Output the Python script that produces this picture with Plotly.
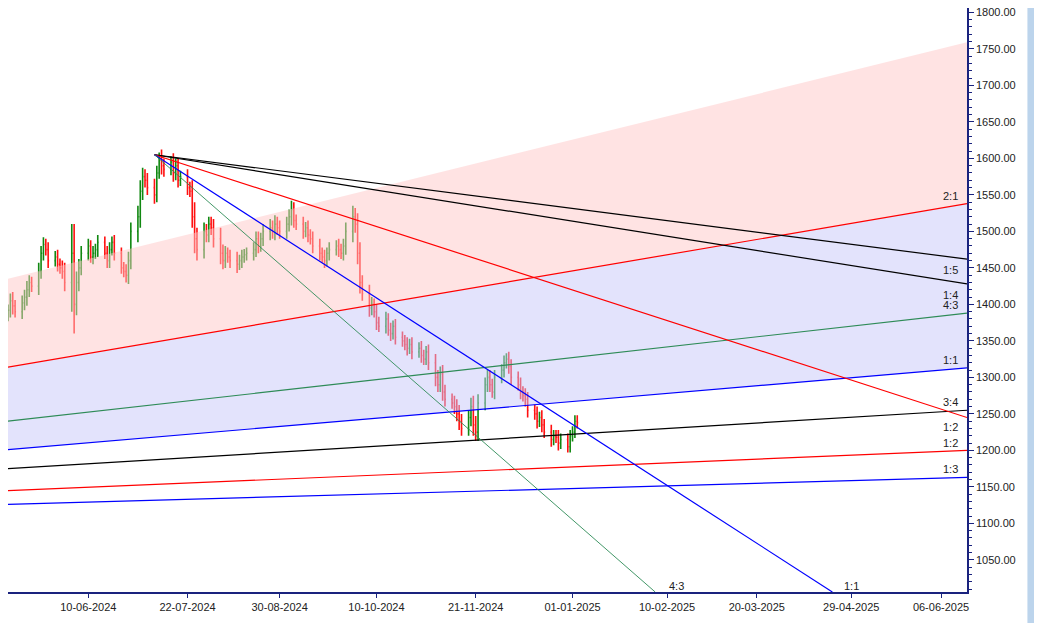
import pandas as pd
import plotly.graph_objects as go

# daily closes, one row per month (May 2024 .. Jan 2025)
closes = [
    1400, 1395, 1385, 1392, 1405, 1398, 1390, 1402, 1410, 1420, 1430, 1425, 1445, 1470, 1482, 1475, 1460, 1465, 1455, 1450, 1445, 1430,
    1470, 1400, 1430, 1450, 1470, 1480, 1465, 1470, 1475, 1485, 1470, 1460, 1475, 1485, 1470, 1450, 1445, 1440, 1460, 1500,
    1520, 1555, 1575, 1570, 1560, 1550, 1580, 1600, 1590, 1585, 1595, 1580, 1590, 1570, 1575, 1560, 1555, 1520, 1490, 1475, 1500, 1495, 1510,
    1505, 1490, 1470, 1460, 1470, 1465, 1460, 1455, 1460, 1465, 1468, 1470, 1475, 1490, 1480, 1490, 1500, 1505, 1500, 1510, 1505, 1500,
    1510, 1520, 1530, 1515, 1510, 1500, 1505, 1495, 1490, 1480, 1470, 1465, 1460, 1470, 1475, 1480, 1475, 1470, 1480, 1500, 1520,
    1510, 1470, 1430, 1415, 1395, 1400, 1390, 1375, 1370, 1380, 1365, 1360, 1370, 1355, 1350, 1345, 1340, 1345, 1335, 1340, 1330, 1325, 1335,
    1320, 1300, 1290, 1305, 1280, 1270, 1265, 1260, 1250, 1240, 1230, 1245, 1260, 1235, 1225, 1265, 1290, 1300, 1290, 1280, 1300,
    1310, 1320, 1325, 1315, 1300, 1290, 1280, 1275, 1270, 1255, 1250, 1240, 1245, 1235, 1225, 1215, 1220, 1218, 1210, 1215, 1205, 1220,
    1225, 1240, 1238,
]
wicks = [
    10, 12, 10, 8, 10, 12, 8, 10, 10, 12, 10, 8, 12, 10, 10, 8, 10, 8, 10, 8, 10, 12,
    40, 40, 15, 12, 10, 10, 8, 10, 8, 10, 8, 10, 10, 8, 10, 8, 8, 10, 12, 12,
    15, 15, 12, 10, 10, 12, 10, 8, 12, 10, 8, 12, 10, 10, 8, 10, 8, 15, 20, 15, 12, 10, 10,
    10, 12, 15, 12, 10, 8, 10, 12, 8, 10, 8, 8, 10, 10, 10, 8, 10, 12, 10, 12, 10, 10,
    10, 10, 12, 10, 8, 10, 8, 10, 8, 10, 10, 8, 10, 8, 10, 8, 10, 8, 10, 12, 15,
    12, 15, 15, 10, 12, 10, 8, 10, 8, 10, 8, 10, 8, 10, 8, 8, 10, 8, 10, 8, 10, 8, 8,
    10, 12, 10, 10, 12, 10, 8, 10, 10, 12, 10, 10, 12, 15, 12, 12, 10, 10, 10, 8, 10,
    8, 10, 8, 10, 10, 8, 10, 8, 10, 10, 8, 10, 8, 10, 8, 10, 8, 8, 10, 8, 8, 8,
    8, 8, 8,
]
dates = pd.bdate_range("2024-05-02", "2025-01-03")

# fan from the July top
top_date = "2024-07-08"
top_price = 1605
down_end_dates = ["2025-06-17", "2025-06-17", "2025-06-17", "2025-04-21", "2025-02-05"]
down_end_prices = [1462, 1428, 1245, 1006, 1006]
down_colors = ["black", "black", "red", "blue", "seagreen"]

# rising fan lines across the chart
x_left, x_right = "2024-05-07", "2025-06-17"
up_start = [1314, 1240, 1201, 1175, 1145, 1126]
up_end = [1538, 1388, 1313, 1255, 1200, 1163]
up_colors = ["red", "seagreen", "blue", "black", "red", "blue"]
pink_top = [1435, 1759]

right_labels = ["2:1", "1:5", "1:4", "4:3", "1:1", "3:4", "1:2", "1:2", "1:3"]
right_label_y = [1548, 1447, 1413, 1399, 1324, 1266, 1232, 1210, 1174]
bottom_labels = ["4:3", "1:1"]
bottom_label_x = ["2025-02-14", "2025-04-29"]

tick_dates = ["2024-06-10", "2024-07-22", "2024-08-30", "2024-10-10", "2024-11-21",
              "2025-01-01", "2025-02-10", "2025-03-20", "2025-04-29", "2025-06-06"]

opens = [closes[0]] + closes[:-1]
highs = [max(o, c) + w for o, c, w in zip(opens, closes, wicks)]
lows = [min(o, c) - w for o, c, w in zip(opens, closes, wicks)]

fig = go.Figure()

# shaded zones
fig.add_trace(go.Scatter(x=[x_left, x_right, x_right, x_left], y=[pink_top[0], pink_top[1], up_end[0], up_start[0]],
                         fill="toself", fillcolor="rgba(255,200,200,0.5)", line=dict(width=0),
                         mode="lines", hoverinfo="skip", showlegend=False))
fig.add_trace(go.Scatter(x=[x_left, x_right, x_right, x_left], y=[up_start[0], up_end[0], up_end[2], up_start[2]],
                         fill="toself", fillcolor="rgba(200,200,250,0.5)", line=dict(width=0),
                         mode="lines", hoverinfo="skip", showlegend=False))

for s, e, c in zip(up_start, up_end, up_colors):
    fig.add_trace(go.Scatter(x=[x_left, x_right], y=[s, e], mode="lines",
                             line=dict(color=c, width=1.2), showlegend=False))

for d, p, c in zip(down_end_dates, down_end_prices, down_colors):
    fig.add_trace(go.Scatter(x=[top_date, d], y=[top_price, p], mode="lines",
                             line=dict(color=c, width=1.2 if c != "seagreen" else 0.9), showlegend=False))

fig.add_trace(go.Ohlc(x=dates, open=opens, high=highs, low=lows, close=closes,
                      increasing=dict(line=dict(color="#118811", width=1.6)),
                      decreasing=dict(line=dict(color="#ff1010", width=1.6)),
                      tickwidth=0.4, showlegend=False))

for t, y in zip(right_labels, right_label_y):
    fig.add_annotation(x="2025-06-10", y=y, text=t, showarrow=False,
                       font=dict(size=11, color="#222", family="Liberation Sans"))
for t, x in zip(bottom_labels, bottom_label_x):
    fig.add_annotation(x=x, y=1014, text=t, showarrow=False,
                       font=dict(size=11, color="#222", family="Liberation Sans"))

fig.update_layout(
    width=1034, height=615,
    margin=dict(l=0, r=75, t=0, b=31, autoexpand=False),
    paper_bgcolor="white", plot_bgcolor="white",
    font=dict(family="Liberation Sans", size=11, color="#222"),
    xaxis=dict(range=[x_left, x_right], tickvals=tick_dates,
               ticktext=[pd.Timestamp(d).strftime("%d-%m-%Y") for d in tick_dates],
               showgrid=False, rangeslider=dict(visible=False),
               showline=True, linecolor="#1a237e", linewidth=1.5,
               ticks="outside", ticklen=4, tickcolor="#1a237e"),
    yaxis=dict(range=[1006, 1806], side="right", dtick=50, tickformat=".2f",
               ticklabeloverflow="allow",
               showgrid=False, showline=True, linecolor="#1a237e", linewidth=1.5,
               ticks="outside", ticklen=5, tickcolor="#1a237e",
               minor=dict(dtick=10, ticks="outside", ticklen=3, tickcolor="#1a237e")),
)
fig.add_shape(type="rect", xref="paper", yref="paper", x0=1.063, x1=1.08, y0=-0.06, y1=1.02,
              fillcolor="#bcd4ec", line=dict(width=0))

fig.write_html("out.html")
